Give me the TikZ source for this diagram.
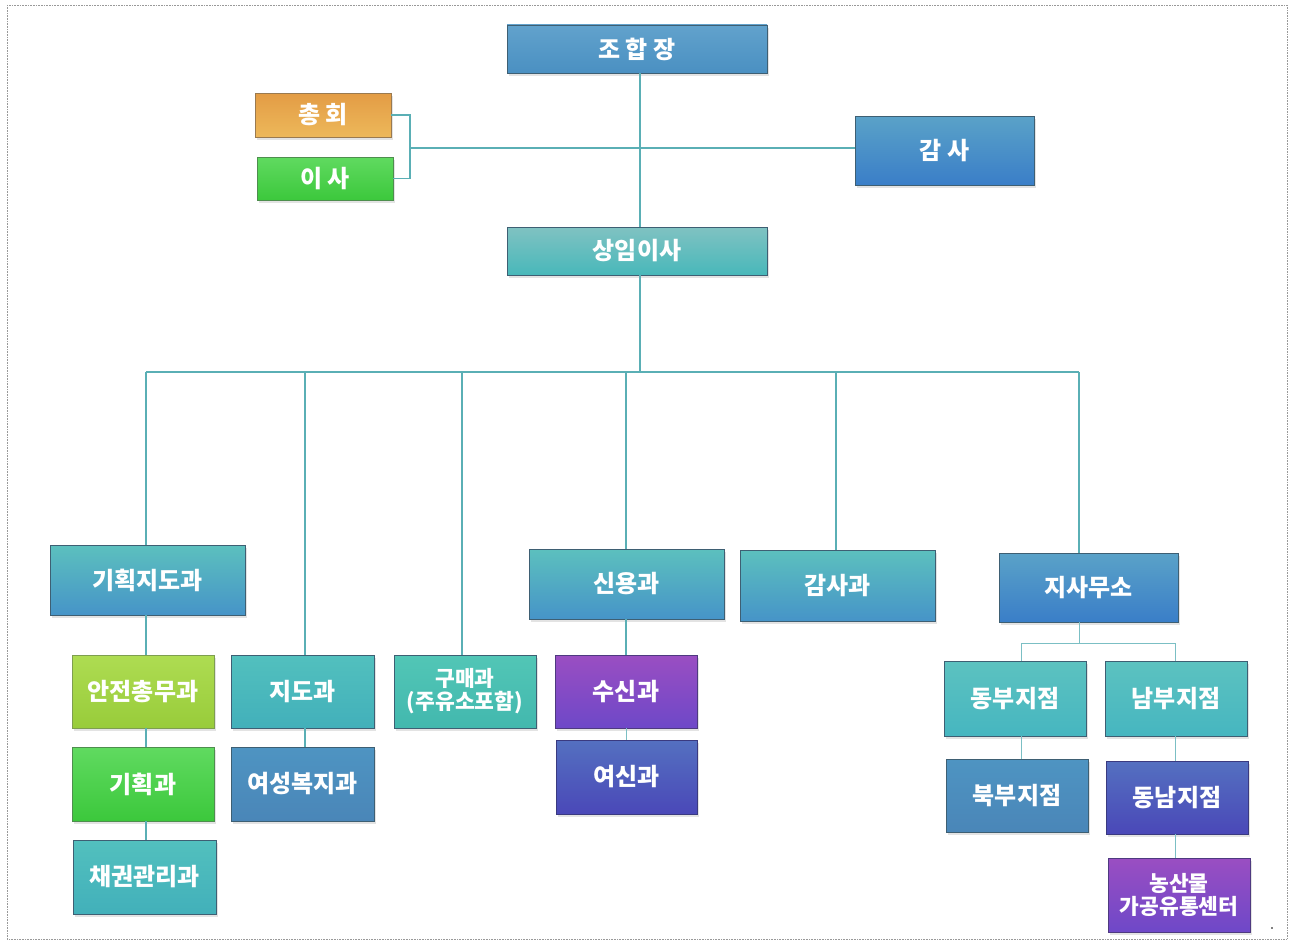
\documentclass[tikz,border=0pt]{standalone}
\usepackage{fontspec}
\newfontfamily\kr{Noto Sans CJK KR}
\usetikzlibrary{shadows}
\definecolor{edge}{HTML}{3E5F73}
\definecolor{conn}{HTML}{5AAFB5}
\definecolor{jhjT}{HTML}{62A2CC}\definecolor{jhjB}{HTML}{4A90C2}
\definecolor{orT}{HTML}{E39C45}\definecolor{orB}{HTML}{EDB85A}\definecolor{orE}{HTML}{9A7A50}
\definecolor{grT}{HTML}{60DA60}\definecolor{grB}{HTML}{3CC83C}\definecolor{grE}{HTML}{4E8E4E}
\definecolor{blT}{HTML}{5AA2C8}\definecolor{blB}{HTML}{3A7EC8}
\definecolor{smT}{HTML}{80C2C2}\definecolor{smB}{HTML}{48B8BA}
\definecolor{tbT}{HTML}{5CC0BE}\definecolor{tbB}{HTML}{4694C8}
\definecolor{ygT}{HTML}{AEDC52}\definecolor{ygB}{HTML}{98CC3A}\definecolor{ygE}{HTML}{7E9E50}
\definecolor{tlT}{HTML}{52C0BE}\definecolor{tlB}{HTML}{42B0BA}
\definecolor{sbT}{HTML}{4E94C2}\definecolor{sbB}{HTML}{4A86B8}
\definecolor{gmT}{HTML}{52C6B6}\definecolor{gmB}{HTML}{42B8AE}
\definecolor{puT}{HTML}{9A4EC2}\definecolor{puB}{HTML}{6E48C8}\definecolor{puE}{HTML}{4E3A80}
\definecolor{inT}{HTML}{5470C0}\definecolor{inB}{HTML}{4A48B8}\definecolor{inE}{HTML}{3A3A80}
\definecolor{brT}{HTML}{5CC2C0}\definecolor{brB}{HTML}{46B6C0}
\tikzset{
  box/.style={draw=edge, line width=0.9pt, inner sep=0pt, text=white, align=center,
    font=\kr\bfseries\fontsize{24}{24}\selectfont,
    drop shadow={opacity=0.22, shadow xshift=2pt, shadow yshift=-3pt}},
  sz/.style n args={2}{minimum width=#1pt, minimum height=#2pt},
  two/.style={font=\kr\bfseries\fontsize{21.5}{23}\selectfont},
  cl/.style n args={2}{top color=#1, bottom color=#2},
  link/.style={draw=conn, line width=1.3pt},
  tick/.style={draw=conn!80, line width=1pt}
}
\begin{document}
\begin{tikzpicture}[x=1pt,y=-1pt]
\useasboundingbox (0,0) rectangle (1292,942);
\draw[densely dotted, gray!80, line width=0.6pt] (7,5) rectangle (1287,939);
\fill[black] (1272,928) circle (0.9pt);

% top level
\node[box, sz={260}{48}, cl={jhjT}{jhjB}] (jhj) at (637,49) {조 합 장};
\node[box, sz={136}{44}, cl={orT}{orB}, draw=orE] (chonghoe) at (323,115) {총 회};
\node[box, sz={136}{43}, cl={grT}{grB}, draw=grE] (isa) at (325,178.5) {이 사};
\node[box, sz={179}{69}, cl={blT}{blB}] (gamsa) at (944.5,150.5) {감 사};
\node[box, sz={260}{48}, cl={smT}{smB}] (sangim) at (637,251) {상임이사};

% second level
\node[box, sz={195}{70}, cl={tbT}{tbB}] (gihoekjido) at (147.5,580) {기획지도과};
\node[box, sz={195}{70}, cl={tbT}{tbB}] (sinyong) at (626.5,584) {신용과};
\node[box, sz={195}{71}, cl={tbT}{tbB}] (gamsagwa) at (837.5,585.5) {감사과};
\node[box, sz={179}{69}, cl={blT}{blB}] (jisa) at (1088.5,587.5) {지사무소};

% third level
\node[box, sz={142}{73}, cl={ygT}{ygB}, draw=ygE] (anjeon) at (143,691.5) {안전총무과};
\node[box, sz={142}{74}, cl={grT}{grB}, draw=grE] (gihoek) at (143,784) {기획과};
\node[box, sz={143}{74}, cl={tlT}{tlB}] (chaegwon) at (144.5,877) {채권관리과};
\node[box, sz={143}{73}, cl={tlT}{tlB}] (jido) at (302.5,691.5) {지도과};
\node[box, sz={143}{74}, cl={sbT}{sbB}] (yeoseong) at (302.5,784) {여성복지과};
\node[box, sz={142}{73}, cl={gmT}{gmB}, two] (gumae) at (465,691.5) {구매과\\(주유소포함)};
\node[box, sz={142}{73}, cl={puT}{puB}, draw=puE] (susin) at (626,691.5) {수신과};
\node[box, sz={141}{74}, cl={inT}{inB}, draw=inE] (yeosin) at (626.5,777) {여신과};
\node[box, sz={142}{75}, cl={brT}{brB}] (dongbu) at (1015,698.5) {동부지점};
\node[box, sz={142}{75}, cl={brT}{brB}] (nambu) at (1176,698.5) {남부지점};
\node[box, sz={142}{73}, cl={sbT}{sbB}] (bukbu) at (1017,795.5) {북부지점};
\node[box, sz={142}{73}, cl={inT}{inB}, draw=inE] (dongnam) at (1177,797.5) {동남지점};
\node[box, sz={142}{74}, cl={puT}{puB}, draw=puE, two] (nongsan) at (1179,895) {농산물\\가공유통센터};

% vertical line positions
\coordinate (xm) at (640,0);
\coordinate (xg) at (146,0);
\coordinate (xj) at (305,0);
\coordinate (xb) at (462,0);
\coordinate (xs) at (626,0);
\coordinate (xa) at (836,0);
\coordinate (xr) at (1079,0);
\coordinate (xe) at (1021,0);
\coordinate (xn) at (1175,0);

% connectors: top
\coordinate (bus) at (640,372);
\coordinate (brk) at (410,148);
\draw[link] (jhj.south -| xm) -- (sangim.north -| xm);
\draw[link] (brk) -- (gamsa.west |- brk);
\draw[link] (chonghoe.east) -| (brk) |- (isa.east);
\draw[link] (sangim.south -| xm) -- (bus);
\draw[link] (bus -| xg) -- (bus -| xr);
\draw[link] (bus -| xg) -- (gihoekjido.north -| xg);
\draw[link] (bus -| xj) -- (jido.north -| xj);
\draw[link] (bus -| xb) -- (gumae.north -| xb);
\draw[link] (bus -| xs) -- (sinyong.north -| xs);
\draw[link] (bus -| xa) -- (gamsagwa.north -| xa);
\draw[link] (bus -| xr) -- (jisa.north -| xr);

% chains
\draw[link] (gihoekjido.south -| xg) -- (anjeon.north -| xg);
\draw[link] (anjeon.south -| xg) -- (gihoek.north -| xg);
\draw[link] (gihoek.south -| xg) -- (chaegwon.north -| xg);
\draw[link] (jido.south -| xj) -- (yeoseong.north -| xj);
\draw[link] (sinyong.south -| xs) -- (susin.north -| xs);
\draw[tick] (susin.south -| xs) -- (yeosin.north -| xs);

% branch offices
\coordinate (jb) at (1079,643);
\draw[tick] (jisa.south -| xr) -- (jb);
\draw[tick] (jb -| xe) -- (jb -| xn);
\draw[tick] (jb -| xe) -- (dongbu.north -| xe);
\draw[tick] (jb -| xn) -- (nambu.north -| xn);
\draw[tick] (dongbu.south -| xe) -- (bukbu.north -| xe);
\draw[tick] (nambu.south -| xn) -- (dongnam.north -| xn);
\draw[tick] (dongnam.south -| xn) -- (nongsan.north -| xn);
\end{tikzpicture}
\end{document}
